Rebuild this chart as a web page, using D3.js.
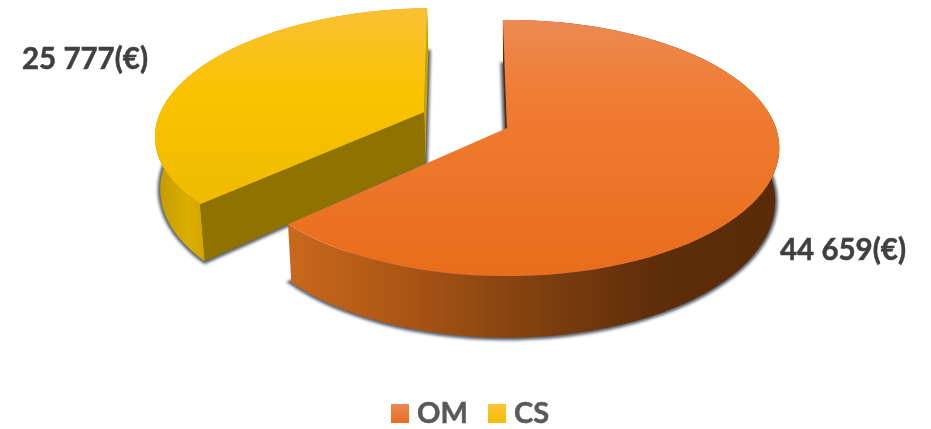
<!DOCTYPE html>
<html>
<head>
<meta charset="utf-8">
<script src="https://cdn.jsdelivr.net/npm/d3@7"></script>
<style>
    html, body { margin: 0; padding: 0; background: #fff; }
    svg { display: block; filter: blur(0.4px); }
    text { font-family: Lato, "Open Sans", sans-serif; font-weight: 700; stroke-width: 0.5px; }
</style>
</head>
<body>
<svg id="chart" width="931" height="429"></svg>
<script>
// Chart data
const categories = ['OM', 'CS'];
const values = [44659, 25777];
const valueLabels = ['44 659(€)', '25 777(€)'];

const width = 931;
const height = 429;
const svg = d3.select('#chart');

// Fake 3D view of the disc: k is the perspective, depth the thickness of the pie
const k = 0.156;
const depth = 52;
const bottomShrink = 0.985;
const explode = [0, 0.34];
const xScale = d3.scaleLinear().domain([0, 1]).range([507, 776]);
const yScale = d3.scaleLinear().domain([0, 1]).range([128, 253]);

// pie angles start nearly at 12 o'clock and run clockwise
const pie = d3.pie().sort(null).startAngle(-1 * Math.PI / 180).endAngle(358 * Math.PI / 180);
const slices = pie(values);

function project(X, Y, bottom) {
    const w = 1 - k * Y;
    let x = xScale(X / w);
    let y = yScale(Y / w);
    if (bottom) {
        x = xScale(0) + (x - xScale(0)) * bottomShrink;
        y += depth / w;
    }
    return [x, y];
}

function arcPoints(slice, i, bottom) {
    const mid = (slice.startAngle + slice.endAngle) / 2;
    const ex = Math.sin(mid) * explode[i];
    const ey = -Math.cos(mid) * explode[i];
    const n = 80;
    return d3.range(n + 1).map(j => {
        const a = slice.startAngle + (slice.endAngle - slice.startAngle) * j / n;
        return project(ex + Math.sin(a), ey - Math.cos(a), bottom);
    });
}

function apexPoint(slice, i, bottom) {
    const mid = (slice.startAngle + slice.endAngle) / 2;
    return project(Math.sin(mid) * explode[i], -Math.cos(mid) * explode[i], bottom);
}

const line = d3.line();

// Gradients
const defs = svg.append('defs');

function addGradient(id, x1, y1, x2, y2, stops) {
    const g = defs.append('linearGradient')
        .attr('id', id)
        .attr('gradientUnits', 'userSpaceOnUse')
        .attr('x1', x1).attr('y1', y1).attr('x2', x2).attr('y2', y2);
    stops.forEach(s => g.append('stop').attr('offset', s[0]).attr('stop-color', s[1]));
}

addGradient('omTop', 0, 21, 0, 276, [[0, '#ec8a52'], [0.3, '#f07c32'], [1, '#e86d1c']]);
addGradient('csTop', 0, 7, 0, 199, [[0, '#fac035'], [0.45, '#fac300'], [1, '#f0bb00']]);
addGradient('omSide', 291, 0, 779, 0, [[0, '#c9681c'], [0.25, '#a85414'], [0.5, '#80400f'], [0.75, '#5e2d09'], [1, '#5a2b08']]);
addGradient('csSide', 156, 0, 210, 0, [[0, '#c29a00'], [0.6, '#dcae00'], [1, '#cfa200']]);
addGradient('omLegend', 0, 404, 0, 423, [[0, '#ee8a55'], [1, '#e96c1a']]);
addGradient('csLegend', 0, 404, 0, 423, [[0, '#fcc338'], [1, '#f5bd00']]);

const blur = defs.append('filter').attr('id', 'shadowBlur')
    .attr('x', '-10%').attr('y', '-10%').attr('width', '120%').attr('height', '120%');
blur.append('feGaussianBlur').attr('stdDeviation', 1.6);

const topFill = ['url(#omTop)', 'url(#csTop)'];
const sideFill = ['url(#omSide)', 'url(#csSide)'];
const startWallFill = ['#5a2b08', '#8f7200'];

// Shadows first so they sit below both slices
const shadows = svg.append('g').attr('filter', 'url(#shadowBlur)');
slices.forEach((slice, i) => {
    const pts = arcPoints(slice, i, true);
    pts.push(apexPoint(slice, i, true));
    shadows.append('path')
        .attr('d', line(pts) + 'Z')
        .attr('fill', '#59616b')
        .attr('stroke', '#59616b')
        .attr('stroke-width', 5);
});

// CS is further back, it goes first
[1, 0].forEach(i => {
    const slice = slices[i];
    const g = svg.append('g').attr('class', 'slice-' + categories[i]);
    const topArc = arcPoints(slice, i, false);
    const botArc = arcPoints(slice, i, true);
    const apexTop = apexPoint(slice, i, false);
    const apexBot = apexPoint(slice, i, true);

    // outer wall
    g.append('path')
        .attr('d', line(topArc.concat(botArc.slice().reverse())) + 'Z')
        .attr('fill', sideFill[i]);

    // wall at the end of the arc, only shows on the exploded slice (thin gold strip)
    if (i === 1) {
        g.append('path')
            .attr('d', line([topArc[topArc.length - 1], apexTop, apexBot, botArc[botArc.length - 1]]) + 'Z')
            .attr('fill', '#cda200');
    }

    // wall at the start of the arc
    g.append('path')
        .attr('d', line([topArc[0], apexTop, apexBot, botArc[0]]) + 'Z')
        .attr('fill', startWallFill[i]);

    // top face
    g.append('path')
        .attr('d', line(topArc.concat([apexTop])) + 'Z')
        .attr('fill', topFill[i]);
});

// Data labels
svg.append('text').attr('x', 780).attr('y', 260).attr('font-size', 29.5)
    .attr('fill', '#404040').attr('stroke', '#404040').text(valueLabels[0]);
svg.append('text').attr('x', 22).attr('y', 69).attr('font-size', 29.5)
    .attr('fill', '#404040').attr('stroke', '#404040').text(valueLabels[1]);

// Legend
const legendX = [391, 488];
const legendFill = ['url(#omLegend)', 'url(#csLegend)'];
categories.forEach((name, i) => {
    svg.append('rect')
        .attr('x', legendX[i]).attr('y', 404)
        .attr('width', 18).attr('height', 19)
        .attr('fill', legendFill[i]);
    svg.append('text')
        .attr('x', legendX[i] + 26).attr('y', 423)
        .attr('font-size', 29)
        .attr('fill', '#595959')
        .attr('stroke', '#595959')
        .text(name);
});
</script>
</body>
</html>
